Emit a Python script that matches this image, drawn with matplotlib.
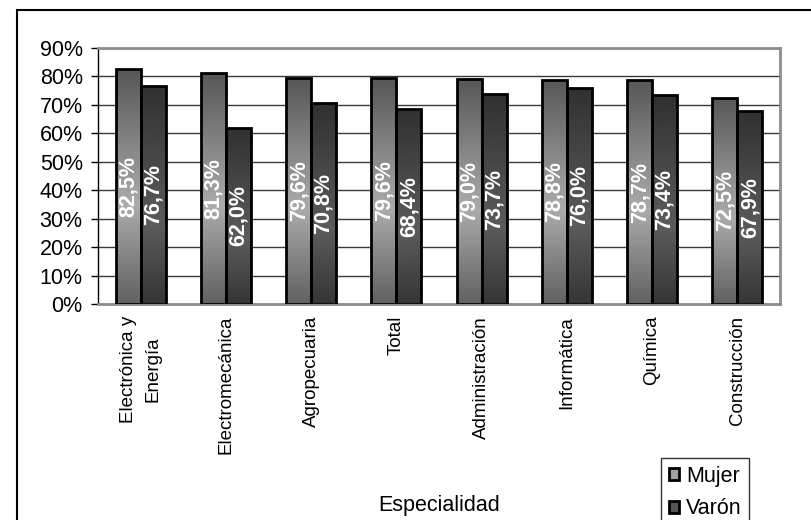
import numpy as np
import matplotlib
matplotlib.use("Agg")
import matplotlib.pyplot as plt
from matplotlib.patches import Patch, Rectangle

categories = ["Electrónica y\nEnergía", "Electromecánica", "Agropecuaria", "Total",
              "Administración", "Informática", "Química", "Construcción"]
mujer = [82.5, 81.3, 79.6, 79.6, 79.0, 78.8, 78.7, 72.5]
varon = [76.7, 62.0, 70.8, 68.4, 73.7, 76.0, 73.4, 67.9]
series_names = ["Mujer", "Varón"]
yticks = [0, 10, 20, 30, 40, 50, 60, 70, 80, 90]

plt.rcParams['font.family'] = ['Liberation Sans', 'DejaVu Sans']

W, H = 812, 520
fig = plt.figure(figsize=(W / 100, H / 100), dpi=100)
ax = fig.add_axes([98 / W, 1 - 304 / H, (780 - 98) / W, (304 - 48) / H])

x = np.arange(len(categories))
bw = 0.293

def gradient(top, peak, bottom, tpeak, n=200):
    t = np.linspace(0, 1, n)
    v = np.where(t < tpeak, top + (peak - top) * (t / tpeak),
                 peak + (bottom - peak) * ((t - tpeak) / (1 - tpeak)))
    return v.reshape(-1, 1)

grads = [gradient(0.34, 0.67, 0.38, 0.58), gradient(0.19, 0.36, 0.21, 0.63)]
solid = ['#8a8a8a', '#3c3c3c']

for i, (vals, off) in enumerate(zip([mujer, varon], [-bw / 2, bw / 2])):
    bars = ax.bar(x + off, vals, bw, color=solid[i], edgecolor='none', zorder=2)
    for b in bars:
        x0, w, h = b.get_x(), b.get_width(), b.get_height()
        im = ax.imshow(grads[i], cmap='gray', vmin=0, vmax=1, aspect='auto',
                       extent=(x0, x0 + w, 0, h), origin='upper', zorder=2.5,
                       interpolation='bilinear')
        im.set_clip_path(b)
    ax.bar(x + off, vals, bw, facecolor='none', edgecolor='black', linewidth=2, zorder=3)
    for xi, v in zip(x + off, vals):
        ax.text(xi, v / 2, f"{v:.1f}%".replace('.', ','), rotation=90, ha='center',
                va='center', color='white', fontsize=15.5, fontweight='bold', zorder=4)

ax.set_xlim(-0.5, len(categories) - 0.5)
ax.set_ylim(0, 90)
ax.set_yticks(yticks)
ax.set_yticklabels([f"{t}%" for t in yticks], fontsize=15.5)
ax.yaxis.grid(True, color='#383838', linewidth=1)
ax.set_axisbelow(True)
ax.tick_params(axis='y', direction='out', length=5, width=1, color='black', pad=6)
ax.set_xticks(x)
ax.set_xticklabels(categories, rotation=90, fontsize=13.5, ha='center', va='top',
                   multialignment='center', linespacing=1.6)
ax.tick_params(axis='x', length=0, pad=8.5)

for s in ['top', 'right', 'bottom']:
    ax.spines[s].set_color('#8c8c8c')
    ax.spines[s].set_linewidth(2)
ax.spines['left'].set_color('black')
ax.spines['left'].set_linewidth(1)

fig.text(439 / W, 1 - 505 / H, "Especialidad", ha='center', va='center', fontsize=15.5)

handles = [Patch(facecolor='#a0a0a0', edgecolor='black', linewidth=2),
           Patch(facecolor='#555555', edgecolor='black', linewidth=2)]
leg = fig.legend(handles, series_names, loc='upper left',
                 bbox_to_anchor=(661 / W, 1 - 458 / H), fontsize=15.5, frameon=True,
                 fancybox=False, edgecolor='black', handlelength=0.5, handleheight=0.5,
                 handletextpad=0.3, labelspacing=0.55, borderpad=0.35, borderaxespad=0)
leg.get_frame().set_linewidth(1)

fig.patches.append(Rectangle((17 / W, -0.1), 1.2, 1.1 - 10 / H, transform=fig.transFigure,
                             fill=False, edgecolor='black', linewidth=1.5))

fig.savefig("out.png", dpi=100)
